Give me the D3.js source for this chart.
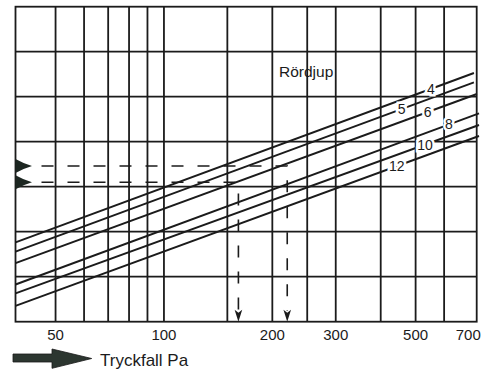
<!DOCTYPE html>
<html>
<head>
<meta charset="utf-8">
<script src="https://cdn.jsdelivr.net/npm/d3@7"></script>
<style>
  html, body { margin: 0; padding: 0; background: #fff; }
  svg { display: block; }
  text { font-family: "Liberation Sans", Arial, Helvetica, sans-serif; fill: #1b1b1b; }
</style>
</head>
<body>
<script>
// Pressure drop axis (Pa, logarithmic)
const pressureDomain = [38.7, 739];
const gridPa = [50, 60, 70, 80, 90, 100, 150, 200, 250, 300, 400, 500, 600];
const tickLabels = [50, 100, 200, 300, 500, 700];

// Vertical axis: unlabeled, 7 equal grid divisions
const levelDomain = [0, 7];
const gridLevels = [1, 2, 3, 4, 5, 6];

// Pipe depth curves (Rördjup), straight lines on the log scale
const depths = ["4", "5", "6", "8", "10", "12"];
const lineStartPa = [38.7, 38.7, 38.7, 38.7, 38.7, 38.7];
const lineEndPa = [726, 726, 740, 750, 750, 750];
const startLevel = [1.764, 1.556, 1.304, 0.827, 0.631, 0.353];
const endLevel = [5.527, 5.316, 5.06, 4.631, 4.371, 4.127];
const labelPa = [551, 457, 540, 619, 531, 443];

// Dashed reading examples
const guidePa = [220, 161];
const guideLevel = [3.46, 3.098];

const W = 501, H = 370;
const margin = { top: 6.7, right: 24.3, bottom: 48.3, left: 15.5 };
const x0 = margin.left, x1 = W - margin.right;
const y0 = H - margin.bottom, y1 = margin.top;

const x = d3.scaleLog().domain(pressureDomain).range([x0, x1]);
const y = d3.scaleLinear().domain(levelDomain).range([y0, y1]);

const ink = "#1b1b1b";

const svg = d3.select("body").append("svg")
  .attr("width", W).attr("height", H);

// grid
const grid = svg.append("g").attr("stroke", ink).attr("stroke-width", 1.8);
grid.selectAll("line.v").data(gridPa).join("line")
  .attr("class", "v")
  .attr("x1", d => x(d)).attr("x2", d => x(d))
  .attr("y1", y1).attr("y2", y0);
grid.selectAll("line.h").data(gridLevels).join("line")
  .attr("class", "h")
  .attr("x1", x0).attr("x2", x1)
  .attr("y1", d => y(d)).attr("y2", d => y(d));
grid.append("rect")
  .attr("x", x0).attr("y", y1)
  .attr("width", x1 - x0).attr("height", y0 - y1)
  .attr("fill", "none");

// depth lines
const lines = depths.map((d, i) => ({
  depth: d,
  pts: [[lineStartPa[i], startLevel[i]], [lineEndPa[i], endLevel[i]]],
  labelPa: labelPa[i]
}));
const lineGen = d3.line().x(p => x(p[0])).y(p => y(p[1]));
svg.append("g").selectAll("path").data(lines).join("path")
  .attr("d", d => lineGen(d.pts))
  .attr("fill", "none").attr("stroke", ink).attr("stroke-width", 1.9);

// dashed guides
const guides = guidePa.map((p, i) => ({ pa: p, level: guideLevel[i] }));
const gg = svg.append("g");
const arrowH = 12, arrowW = 3.8;
gg.selectAll("path.dash").data(guides).join("path")
  .attr("class", "dash")
  .attr("d", d => `M${x0},${y(d.level)}H${x(d.pa)}V${y0 - arrowH + 1}`)
  .attr("fill", "none").attr("stroke", ink).attr("stroke-width", 1.6)
  .attr("stroke-dasharray", "12,14");
gg.selectAll("path.head").data(guides).join("path")
  .attr("class", "head")
  .attr("d", d => {
    const cx = x(d.pa);
    return `M${cx - arrowW},${y0 - arrowH}L${cx},${y0 - arrowH + 3}L${cx + arrowW},${y0 - arrowH}L${cx},${y0}Z`;
  })
  .attr("fill", ink);
// left arrowheads at the start of each guide
gg.selectAll("path.lhead").data(guides).join("path")
  .attr("class", "lhead")
  .attr("d", d => {
    const cy = y(d.level);
    return `M${x0},${cy - 7}Q${x0 + 8},${cy - 2.5} ${x0 + 16.5},${cy}Q${x0 + 8},${cy + 2.5} ${x0},${cy + 7}Z`;
  })
  .attr("fill", "#1c2621");

// depth labels, sitting on the lines with a white knockout
const interp = (d) => {
  const [a, b] = d.pts;
  const t = (Math.log(d.labelPa) - Math.log(a[0])) / (Math.log(b[0]) - Math.log(a[0]));
  return a[1] + t * (b[1] - a[1]);
};
svg.append("g").selectAll("text").data(lines).join("text")
  .attr("x", d => x(d.labelPa))
  .attr("y", d => y(interp(d)))
  .attr("dy", "0.35em")
  .attr("text-anchor", "middle")
  .attr("font-size", 14)
  .attr("stroke", "#fff").attr("stroke-width", 5)
  .attr("paint-order", "stroke")
  .text(d => d.depth);

svg.append("text")
  .attr("x", 279).attr("y", 77)
  .attr("font-size", 15.5)
  .text("Rördjup");

// x tick labels
svg.append("g").selectAll("text").data(tickLabels).join("text")
  .attr("x", d => x(d))
  .attr("y", 340)
  .attr("text-anchor", "middle")
  .attr("font-size", 15)
  .text(d => d);

// axis title with a bold arrow
svg.append("path")
  .attr("d", "M13,354H52V349L91.7,358.5L52,368.3V362H13Z")
  .attr("fill", "#2c3630").attr("stroke", "#1b1b1b").attr("stroke-width", 0.8);
svg.append("text")
  .attr("x", 100).attr("y", 365.5)
  .attr("font-size", 17)
  .text("Tryckfall Pa");
</script>
</body>
</html>
